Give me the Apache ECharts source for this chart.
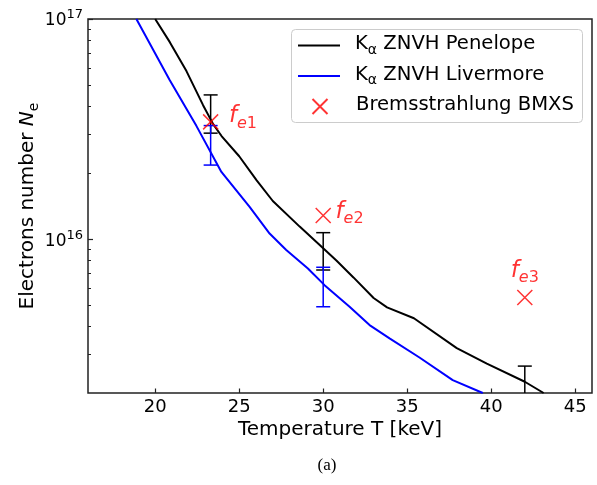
<!DOCTYPE html>
<html>
<head>
<meta charset="utf-8">
<script src="https://cdn.jsdelivr.net/npm/echarts@6/dist/echarts.min.js"></script>
<style>
  html, body { margin: 0; padding: 0; background: #fff; }
  #chart { width: 597px; height: 485px; }
</style>
</head>
<body>
<div id="chart"></div>
<script>
// K-alpha ZNVH, Penelope cross sections
const penelopeT = [20.0, 20.87, 21.86, 22.85, 23.45, 23.95, 25.0, 26.04, 27.0, 28.6, 30.0, 30.8, 31.8, 33.0, 33.8, 35.4, 37.95, 39.74, 42.0, 43.12];
const penelopeN = [1.0e17, 7.85e16, 5.8e16, 4.06e16, 3.33e16, 2.94e16, 2.38e16, 1.85e16, 1.49e16, 1.14e16, 9.1e15, 7.98e15, 6.7e15, 5.4e15, 4.9e15, 4.37e15, 3.2e15, 2.72e15, 2.25e15, 2.0e15];

// K-alpha ZNVH, Livermore cross sections
const livermoreT = [18.88, 20.86, 22.45, 23.94, 25.62, 26.81, 27.80, 29.09, 30.08, 31.57, 32.76, 33.95, 35.73, 37.71, 39.50];
const livermoreN = [1.0e17, 5.28e16, 3.27e16, 2.02e16, 1.40e16, 1.06e16, 8.92e15, 7.36e15, 6.18e15, 4.93e15, 4.07e15, 3.54e15, 2.90e15, 2.29e15, 2.0e15];

// error bars on the two K-alpha curves
const penelopeErrT = [23.3, 30.0, 42.0];
const penelopeErrLow = [3.03e16, 7.24e15, 1.85e15];
const penelopeErrHigh = [4.52e16, 1.07e16, 2.65e15];
const livermoreErrT = [23.3, 30.0];
const livermoreErrLow = [2.17e16, 4.93e15];
const livermoreErrHigh = [3.28e16, 7.45e15];

// Bremsstrahlung BMXS estimates
const bremsT = [23.3, 30.0, 42.0];
const bremsN = [3.41e16, 1.28e16, 5.43e15];
const bremsTags = ['e1', 'e2', 'e3'];

// axis ticks
const xTicks = [20, 25, 30, 35, 40, 45];
const yMajorTicks = [1e16, 1e17];
const yMinorTicks = [3e15, 4e15, 5e15, 6e15, 7e15, 8e15, 9e15, 2e16, 3e16, 4e16, 5e16, 6e16, 7e16, 8e16, 9e16];

const X_MIN = 16, X_MAX = 46, Y_MIN = 2e15, Y_MAX = 1e17;

const FONT = 'DejaVu Sans';
const RED = '#ff0000';
const BLUE = '#0000ff';
const BLACK = '#000000';
const LEGEND_FS = 19.6;
const NAME_FS = 20;

const pairs = (xs, ys) => xs.map((x, i) => [x, ys[i]]);
const lg = Math.log10;

function errorBars(name, T, low, high, color) {
  return {
    name: name,
    type: 'custom',
    xAxisIndex: 0,
    yAxisIndex: 0,
    clip: true,
    silent: true,
    z: 4,
    data: T.map((t, i) => [t, low[i], high[i]]),
    encode: { x: 0, y: [1, 2] },
    renderItem: function (params, api) {
      const lo = api.coord([api.value(0), api.value(1)]);
      const hi = api.coord([api.value(0), api.value(2)]);
      const hw = 7;
      const style = { stroke: color, lineWidth: 1.5, fill: null };
      return {
        type: 'group',
        children: [
          { type: 'line', shape: { x1: hi[0], y1: hi[1], x2: lo[0], y2: lo[1] }, style: style },
          { type: 'line', shape: { x1: hi[0] - hw, y1: hi[1], x2: hi[0] + hw, y2: hi[1] }, style: style },
          { type: 'line', shape: { x1: lo[0] - hw, y1: lo[1], x2: lo[0] + hw, y2: lo[1] }, style: style }
        ]
      };
    }
  };
}

// label placement around each cross
const tagPlacement = [
  { position: 'right', distance: 10, offset: [0, -4] },
  { position: 'right', distance: 4, offset: [0, -2] },
  { position: 'top', distance: 3, offset: [0, 0] }
];

const labelRich = {
  f: { fontFamily: FONT, fontStyle: 'italic', fontSize: 23, color: RED, padding: [0, 0, 4, 0], verticalAlign: 'bottom' },
  e: { fontFamily: FONT, fontStyle: 'italic', fontSize: 16, color: RED, verticalAlign: 'bottom' },
  d: { fontFamily: FONT, fontSize: 16, color: RED, verticalAlign: 'bottom' }
};

const crossPath = 'path://M0,0L10,10M10,0L0,10';

const legendRich = {
  sp: { width: 10, fontSize: LEGEND_FS },
  sq: { width: 23.5, fontSize: LEGEND_FS },
  k: { fontFamily: FONT, fontSize: LEGEND_FS, color: '#000', padding: [0, 0, 3, 0], verticalAlign: 'bottom' },
  a: { fontFamily: FONT, fontSize: 14, color: '#000', verticalAlign: 'bottom' },
  t: { fontFamily: FONT, fontSize: LEGEND_FS, color: '#000', padding: [0, 0, 3, 0], verticalAlign: 'bottom' }
};

const NAME_PEN = 'Kα ZNVH Penelope';
const NAME_LIV = 'Kα ZNVH Livermore';
const NAME_BREMS = 'Bremsstrahlung BMXS';

function legendText(name) {
  if (name.indexOf('Kα') === 0) {
    return '{sp| }{k|K}{a|α}{t|' + name.slice(2) + '}';
  }
  return '{sq| }{t|' + name + '}';
}

function legendAt(item, left, top, w, h) {
  return {
    data: [item],
    left: left,
    top: top,
    orient: 'vertical',
    padding: 0,
    itemWidth: w,
    itemHeight: h,
    selectedMode: false,
    formatter: legendText,
    textStyle: { fontFamily: FONT, fontSize: LEGEND_FS, color: '#000', rich: legendRich },
    z: 10
  };
}

const logTickAxis = (extra) => Object.assign({
  type: 'value',
  min: lg(Y_MIN),
  max: lg(Y_MAX),
  position: 'left',
  axisLine: { show: false },
  splitLine: { show: false }
}, extra);

const option = {
  animation: false,
  backgroundColor: '#fff',
  textStyle: { fontFamily: FONT },
  grid: {
    left: 88, top: 19, width: 504, height: 374,
    show: true, borderColor: '#222', borderWidth: 1.5, backgroundColor: 'transparent'
  },
  xAxis: [{
    type: 'value',
    min: X_MIN,
    max: X_MAX,
    axisLine: { show: false },
    splitLine: { show: false },
    axisTick: { show: true, inside: true, length: 4.5, customValues: xTicks, lineStyle: { color: '#222', width: 1.2 } },
    axisLabel: { customValues: xTicks, margin: 5, fontSize: 18, color: '#000', fontFamily: FONT },
    name: 'Temperature T [keV]',
    nameLocation: 'middle',
    nameGap: 27,
    nameMoveOverlap: false,
    nameTextStyle: { fontSize: NAME_FS, color: '#000', fontFamily: FONT }
  }],
  yAxis: [
    { type: 'log', logBase: 10, min: Y_MIN, max: Y_MAX, show: false },
    logTickAxis({
      axisTick: { show: true, inside: true, length: 5, customValues: yMajorTicks.map(lg), lineStyle: { color: '#222', width: 1.2 } },
      axisLabel: {
        customValues: yMajorTicks.map(lg),
        margin: 5,
        formatter: (v) => '{b|10}{s|' + Math.round(v) + '}',
        rich: {
          b: { fontFamily: FONT, fontSize: 17, color: '#000', verticalAlign: 'bottom', padding: [0, 0, 0, 0] },
          s: { fontFamily: FONT, fontSize: 13, color: '#000', verticalAlign: 'bottom', padding: [0, 0, 8, 0] }
        }
      },
      name: '{r|Electrons number }{i|N}{s|e}',
      nameLocation: 'middle',
      nameGap: 47,
      nameMoveOverlap: false,
      nameTextStyle: {
        fontFamily: FONT, fontSize: NAME_FS, color: '#000',
        rich: {
          r: { fontFamily: FONT, fontSize: NAME_FS, color: '#000', padding: [0, 0, 3, 0], verticalAlign: 'bottom' },
          i: { fontFamily: FONT, fontSize: NAME_FS, fontStyle: 'italic', color: '#000', padding: [0, 0, 3, 0], verticalAlign: 'bottom' },
          s: { fontFamily: FONT, fontSize: 14, color: '#000', verticalAlign: 'bottom' }
        }
      }
    }),
    logTickAxis({
      axisTick: { show: true, inside: true, length: 3, customValues: yMinorTicks.map(lg), lineStyle: { color: '#222', width: 1 } },
      axisLabel: { show: false }
    })
  ],
  legend: [
    legendAt({ name: NAME_PEN, icon: 'rect' }, 298, 34, 42, 2),
    legendAt({ name: NAME_LIV, icon: 'rect' }, 298, 64.5, 42, 2),
    legendAt({ name: NAME_BREMS }, 311.5, 95, 15, 15)
  ],
  graphic: [
    {
      type: 'rect',
      shape: { x: 291.5, y: 29.5, width: 291, height: 93, r: 4 },
      style: { fill: 'rgba(255,255,255,0.8)', stroke: '#cccccc', lineWidth: 1 },
      z: 5
    },
    {
      type: 'text',
      x: 327, y: 466,
      style: { text: '(a)', fontFamily: 'Liberation Serif', fontSize: 17, fill: '#000', align: 'center', verticalAlign: 'middle' }
    }
  ],
  series: [
    {
      name: NAME_PEN,
      type: 'line',
      xAxisIndex: 0, yAxisIndex: 0,
      data: pairs(penelopeT, penelopeN),
      symbol: 'none',
      lineStyle: { color: BLACK, width: 2 },
      itemStyle: { color: BLACK },
      z: 3
    },
    {
      name: NAME_LIV,
      type: 'line',
      xAxisIndex: 0, yAxisIndex: 0,
      data: pairs(livermoreT, livermoreN),
      symbol: 'none',
      lineStyle: { color: BLUE, width: 2 },
      itemStyle: { color: BLUE },
      z: 3
    },
    errorBars('penelope-err', penelopeErrT, penelopeErrLow, penelopeErrHigh, BLACK),
    errorBars('livermore-err', livermoreErrT, livermoreErrLow, livermoreErrHigh, BLUE),
    {
      name: NAME_BREMS,
      type: 'scatter',
      xAxisIndex: 0, yAxisIndex: 0,
      symbol: crossPath,
      symbolSize: 15,
      symbolKeepAspect: true,
      itemStyle: { color: 'rgba(0,0,0,0)', borderColor: RED, borderWidth: 1.5 },
      z: 6,
      data: bremsT.map((t, i) => ({
        value: [t, bremsN[i]],
        label: Object.assign({
          show: true,
          formatter: '{f|f}{e|e}{d|' + bremsTags[i].slice(1) + '}',
          rich: labelRich
        }, tagPlacement[i])
      }))
    }
  ]
};

const chart = echarts.init(document.getElementById('chart'), null, { renderer: 'canvas' });
chart.setOption(option);
</script>
</body>
</html>
